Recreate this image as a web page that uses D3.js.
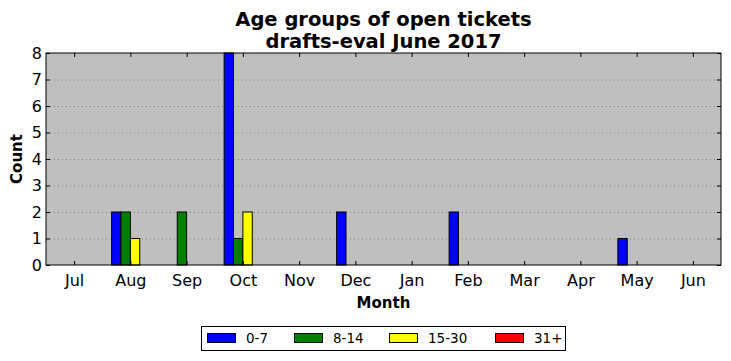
<!DOCTYPE html>
<html><head><meta charset="utf-8">
<script src="https://cdn.jsdelivr.net/npm/d3@7"></script>
<style>body{margin:0;background:#fff}svg{display:block}text{font-family:"DejaVu Sans",sans-serif}</style>
</head><body>
<script>
const months = ["Jul","Aug","Sep","Oct","Nov","Dec","Jan","Feb","Mar","Apr","May","Jun"];
const seriesNames = ["0-7","8-14","15-30","31+"];
const seriesColors = ["#0000ff","#008000","#ffff00","#ff0000"];
const s0_7   = [0,2,0,8,0,2,0,2,0,0,1,0];
const s8_14  = [0,2,2,1,0,0,0,0,0,0,0,0];
const s15_30 = [0,1,0,2,0,0,0,0,0,0,0,0];
const s31    = [0,0,0,0,0,0,0,0,0,0,0,0];
const yTicks = [0,1,2,3,4,5,6,7,8];
const series = [s0_7, s8_14, s15_30, s31];

const W = 731, H = 361;
const m = {l:46, r:721, t:53, b:265};
const svg = d3.select("body").append("svg").attr("width",W).attr("height",H);

const x = d3.scaleLinear().domain([-0.5, 11.5]).range([m.l, m.r]);
const y = d3.scaleLinear().domain([0, 8]).range([m.b, m.t]);

svg.append("rect").attr("x",m.l).attr("y",m.t).attr("width",m.r-m.l).attr("height",m.b-m.t).attr("fill","#bfbfbf");

// grid
svg.append("g").selectAll("line").data(yTicks.slice(1,-1)).join("line")
  .attr("x1",m.l).attr("x2",m.r).attr("y1",d=>y(d)+0.5).attr("y2",d=>y(d)+0.5)
  .attr("stroke","#808080").attr("stroke-width",1).attr("stroke-dasharray","1,3");

// bars
const bw = 1/6;
series.forEach((vals,i)=>{
  svg.append("g").selectAll("rect").data(vals).join("rect")
    .attr("x",(d,j)=>x(j + (i-2)*bw))
    .attr("width",x(bw)-x(0))
    .attr("y",d=>y(d))
    .attr("height",d=>y(0)-y(d))
    .attr("fill",seriesColors[i]).attr("stroke","#000").attr("stroke-width",1);
});

// frame
svg.append("rect").attr("x",m.l).attr("y",m.t).attr("width",m.r-m.l).attr("height",m.b-m.t)
  .attr("fill","none").attr("stroke","#000").attr("stroke-width",1);

// axes with inward ticks
const xb = d3.axisBottom(x).tickValues(d3.range(12)).tickFormat(i=>months[i]).tickSizeInner(-4).tickSizeOuter(0).tickPadding(10);
const gx = svg.append("g").attr("transform",`translate(0,${m.b})`).call(xb);
gx.select(".domain").remove();
gx.selectAll("text").attr("font-size",16).attr("fill","#000").attr("font-family","DejaVu Sans");
const xt = d3.axisTop(x).tickValues(d3.range(12)).tickFormat("").tickSizeInner(-4).tickSizeOuter(0);
const gxt = svg.append("g").attr("transform",`translate(0,${m.t})`).call(xt);
gxt.select(".domain").remove();

const yl = d3.axisLeft(y).tickValues(yTicks).tickFormat(d3.format("d")).tickSizeInner(-4).tickSizeOuter(0).tickPadding(4);
const gy = svg.append("g").attr("transform",`translate(${m.l},0)`).call(yl);
gy.select(".domain").remove();
gy.selectAll("text").attr("font-size",16).attr("fill","#000").attr("font-family","DejaVu Sans");
const yr = d3.axisRight(y).tickValues(yTicks).tickFormat("").tickSizeInner(-4).tickSizeOuter(0);
const gyr = svg.append("g").attr("transform",`translate(${m.r},0)`).call(yr);
gyr.select(".domain").remove();

// titles
const cx = (m.l+m.r)/2;
svg.append("text").attr("x",cx).attr("y",26).attr("text-anchor","middle").attr("font-size",19.5).attr("font-weight","bold").text("Age groups of open tickets");
svg.append("text").attr("x",cx).attr("y",48).attr("text-anchor","middle").attr("font-size",19.5).attr("font-weight","bold").text("drafts-eval June 2017");
svg.append("text").attr("x",cx).attr("y",308).attr("text-anchor","middle").attr("font-size",15).attr("font-weight","bold").text("Month");
svg.append("text").attr("transform",`translate(22,${(m.t+m.b)/2}) rotate(-90)`).attr("text-anchor","middle").attr("font-size",15).attr("font-weight","bold").text("Count");

// legend
const lg = svg.append("g");
lg.append("rect").attr("x",201.5).attr("y",326.5).attr("width",364).attr("height",24).attr("fill","#fff").attr("stroke","#000");
const lx = [207, 294, 389, 495];
seriesNames.forEach((n,i)=>{
  lg.append("rect").attr("x",lx[i]+0.5).attr("y",333.5).attr("width",28).attr("height",9).attr("fill",seriesColors[i]).attr("stroke","#000");
  lg.append("text").attr("x",lx[i]+39).attr("y",343).attr("font-size",13.5).text(n);
});
</script>
</body></html>
